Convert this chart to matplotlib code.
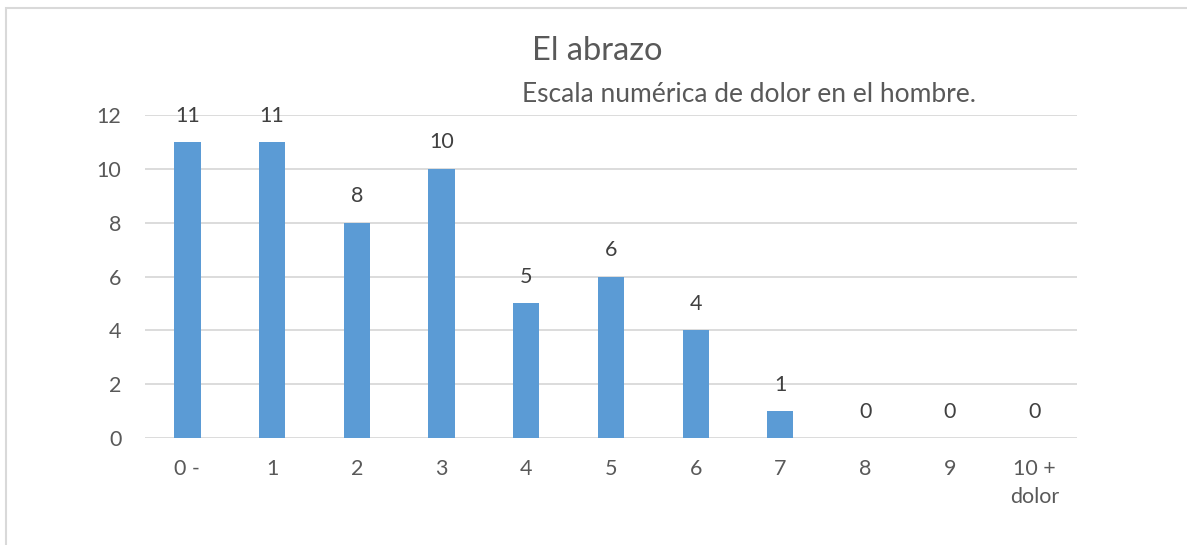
import matplotlib.pyplot as plt
from matplotlib.patches import Rectangle

categories = ["0 -", "1", "2", "3", "4", "5", "6", "7", "8", "9", "10 +\ndolor"]
counts = [11, 11, 8, 10, 5, 6, 4, 1, 0, 0, 0]
y_ticks = [0, 2, 4, 6, 8, 10, 12]

BAR_COLOR = "#5B9BD5"
GRID_COLOR = "#D9D9D9"
TEXT_COLOR = "#595959"

plt.rcParams["font.family"] = ["Lato", "DejaVu Sans"]

fig = plt.figure(figsize=(11.87, 5.45), dpi=100)
ax = fig.add_axes([0.1222, 0.1963, 0.785, 0.5927])

x = range(len(categories))
bars = ax.bar(x, counts, width=0.31, color=BAR_COLOR, zorder=3)

for b, v in zip(bars, counts):
    ax.annotate(str(v), (b.get_x() + b.get_width() / 2, v),
                xytext=(0, 19), textcoords="offset points",
                ha="center", va="center", fontsize=15.5, color="#404040")

ax.set_xlim(-0.5, len(categories) - 0.5)
ax.set_ylim(0, 12)
ax.set_yticks(y_ticks)
ax.set_xticks(list(x))
ax.set_xticklabels(categories, linespacing=1.5, va="top")
ax.tick_params(axis="both", length=0, labelsize=15.5, colors=TEXT_COLOR)
ax.tick_params(axis="x", pad=15)
ax.tick_params(axis="y", pad=17)
ax.grid(axis="y", color=GRID_COLOR, linewidth=1.3, zorder=0)
for side in ["top", "right", "left", "bottom"]:
    ax.spines[side].set_visible(False)

fig.text(0.503, 0.906, "El abrazo", ha="center", va="center",
         fontsize=23.5, color=TEXT_COLOR)
fig.text(0.631, 0.826, "Escala numérica de dolor en el hombre.", ha="center",
         va="center", fontsize=19, color=TEXT_COLOR)

# chart frame, only top and left edges fall inside the canvas
fig.patches.append(Rectangle((6 / 1187, -0.2), 1.2, 1.2 - 8 / 545,
                             transform=fig.transFigure, fill=False,
                             edgecolor=GRID_COLOR, linewidth=1.5))

fig.savefig("out.png", dpi=100)
